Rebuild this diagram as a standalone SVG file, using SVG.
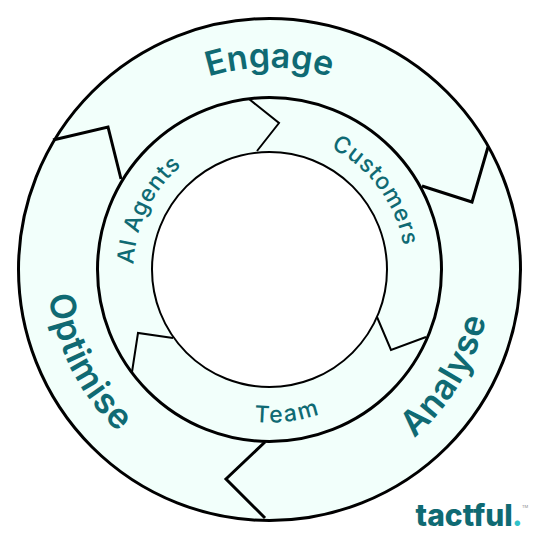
<svg xmlns="http://www.w3.org/2000/svg" width="539" height="539" viewBox="0 0 539 539">
<style>
.ring{fill:#f2fffb;stroke:#000;stroke-width:3}
.hole{fill:#fff;stroke:#000;stroke-width:2}
.big{stroke-width:3;fill:none;stroke:#000;stroke-linejoin:miter}
.small{stroke-width:2;fill:none;stroke:#000;stroke-linejoin:miter}
text{font-family:Inter,"Liberation Sans",sans-serif;fill:#0f6a73;text-anchor:middle}
.o{font-size:34px;font-weight:600}
.w{font-size:35px;font-weight:600;letter-spacing:.8px}
.i{font-size:23px;font-weight:500;letter-spacing:.8px}
</style>
<defs>
<path id="t202" d="M67.500 269.500A202 202 0 0 1 471.500 269.500"/>
<path id="t136" d="M133.500 269.500A136 136 0 0 1 405.500 269.500"/>
<path id="b222" d="M47.500 269.500A222 222 0 0 0 491.500 269.500"/>
<path id="b153" d="M116.500 269.500A153 153 0 0 0 422.500 269.500"/>
</defs>
<g id="rings">
<circle class="ring" cx="269.500" cy="269.500" r="251"/>
<circle class="ring" cx="269.500" cy="269.500" r="172"/>
<circle class="hole" cx="269.500" cy="269.500" r="117.500"/>
</g>
<g id="connectors">
<polyline class="big" points="53,140 108,127 121,179"/>
<polyline class="big" points="488,147 472,202 422,186"/>
<polyline class="big" points="265,442 226,479 265,518"/>
<polyline class="small" points="249,99 279,123 257,151"/>
<polyline class="small" points="377,317 391,350 426,337"/>
<polyline class="small" points="173,338 138,333 132,372"/>
</g>
<g id="engage"><text class="o"><textPath href="#t202" startOffset="50%">Engage</textPath></text></g>
<g id="analyse"><text class="w" transform="rotate(-59 269.500 269.500)"><textPath href="#b222" startOffset="50%">Analyse</textPath></text></g>
<g id="optimise"><text class="w" transform="rotate(63 269.500 269.500)"><textPath href="#b222" startOffset="50%">Optimise</textPath></text></g>
<g id="ai-agents"><text class="i" transform="rotate(-64 269.500 269.500)"><textPath href="#t136" startOffset="50%">AI Agents</textPath></text></g>
<g id="customers"><text class="i" transform="rotate(53.500 269.500 269.500)"><textPath href="#t136" startOffset="50%">Customers</textPath></text></g>
<g id="team"><text class="i" transform="rotate(-7 269.500 269.500)" style="letter-spacing:1.8px"><textPath href="#b153" startOffset="50%">Team</textPath></text></g>
<g id="logo">
<text x="469" y="526" style="font-size:30px;font-weight:800;letter-spacing:0">tactful<tspan fill="#2fc2c9" dx="-1">.</tspan></text>
<text x="525" y="508" style="font-size:4px;fill:#888">TM</text>
</g>
</svg>
